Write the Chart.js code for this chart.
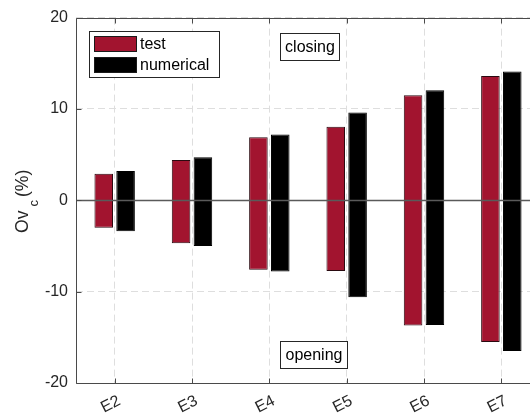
<!DOCTYPE html>
<html>
<head>
<meta charset="utf-8">
<script src="https://cdn.jsdelivr.net/npm/chart.js@4.4.1/dist/chart.umd.min.js"></script>
<style>
html,body{margin:0;padding:0;background:#fff;overflow:hidden;width:530px;height:413px;}
#wrap{position:absolute;left:0;top:0;width:545px;height:413px;}
</style>
</head>
<body>
<div id="wrap"><canvas id="c" width="545" height="413"></canvas></div>
<script>
const categories = ['E2','E3','E4','E5','E6','E7'];
const testHigh = [2.9, 4.4, 6.9, 8.05, 11.5, 13.6];
const testLow  = [-3.0, -4.7, -7.6, -7.75, -13.7, -15.5];
const numHigh  = [3.2, 4.7, 7.2, 9.6, 12.05, 14.1];
const numLow   = [-3.4, -5.0, -7.8, -10.6, -13.65, -16.5];
const yTicks = [-20, -10, 0, 10, 20];
const seriesNames = ['test', 'numerical'];
const seriesColors = ['#A2142F', '#000000'];

const FONT = '"Liberation Sans", Arial, Helvetica, sans-serif';
const AX = '#262626';

const overlay = {
  id: 'overlay',
  afterDatasetsDraw(chart) {
    const ctx = chart.ctx, a = chart.chartArea;
    const xs = chart.scales.x, ys = chart.scales.y;
    ctx.save();
    // zero line
    const y0 = Math.round(ys.getPixelForValue(0)) + 0.5;
    ctx.strokeStyle = '#5a5a5a'; ctx.lineWidth = 1.4;
    ctx.beginPath(); ctx.moveTo(a.left, y0); ctx.lineTo(a.right, y0); ctx.stroke();
    // box
    ctx.strokeStyle = '#4a4a4a'; ctx.lineWidth = 1;
    const L = Math.round(a.left) + 0.5, T = Math.round(a.top) + 0.5, B = Math.round(a.bottom) + 0.5, R = Math.round(a.right) + 0.5;
    ctx.beginPath();
    ctx.moveTo(L, B); ctx.lineTo(L, T); ctx.lineTo(R, T); ctx.lineTo(R, B); ctx.lineTo(L, B);
    ctx.stroke();
    // inside ticks
    ctx.beginPath();
    categories.forEach((c, i) => {
      const x = Math.round(xs.getPixelForValue(i)) + 0.5;
      ctx.moveTo(x, T); ctx.lineTo(x, T + 5);
      ctx.moveTo(x, B); ctx.lineTo(x, B - 5);
    });
    yTicks.forEach(v => {
      const y = Math.round(ys.getPixelForValue(v)) + 0.5;
      ctx.moveTo(L, y); ctx.lineTo(L + 5, y);
      ctx.moveTo(R, y); ctx.lineTo(R - 5, y);
    });
    ctx.stroke();
    // x tick labels (rotated)
    ctx.fillStyle = AX;
    ctx.font = '16px ' + FONT;
    ctx.textAlign = 'center'; ctx.textBaseline = 'middle';
    categories.forEach((c, i) => {
      const x = xs.getPixelForValue(i);
      ctx.save();
      ctx.translate(x - 4, a.bottom + 21.5);
      ctx.rotate(-27 * Math.PI / 180);
      ctx.fillText(c, 0, 0);
      ctx.restore();
    });
    // y title with subscript
    ctx.save();
    ctx.translate(28, 233);
    ctx.rotate(-Math.PI / 2);
    ctx.textAlign = 'left'; ctx.textBaseline = 'alphabetic';
    ctx.font = '17.6px ' + FONT;
    ctx.fillText('Ov', 0, 0);
    let w = ctx.measureText('Ov').width + 4;
    ctx.font = '13px ' + FONT;
    ctx.fillText('c', w, 10);
    w += ctx.measureText('c').width + 3;
    ctx.font = '17.6px ' + FONT;
    ctx.fillText('(%)', w, 0);
    ctx.restore();
    // legend
    ctx.fillStyle = '#fff';
    ctx.fillRect(89, 31, 130, 46);
    ctx.strokeStyle = '#262626'; ctx.lineWidth = 1;
    ctx.strokeRect(89.5, 31.5, 130, 46);
    ctx.font = '16px ' + FONT;
    ctx.textAlign = 'left'; ctx.textBaseline = 'middle';
    seriesNames.forEach((n, i) => {
      const yy = 36 + i * 21;
      ctx.fillStyle = seriesColors[i];
      ctx.fillRect(94, yy, 43, 16);
      ctx.strokeStyle = '#1a1a1a';
      ctx.strokeRect(94.5, yy + 0.5, 42, 15);
      ctx.fillStyle = '#000';
      ctx.fillText(n, 140, yy + 8.5);
    });
    // annotations
    const boxes = [['closing', 280, 33, 59, 27], ['opening', 280, 341, 67, 27]];
    boxes.forEach(([t, x, y, bw, bh]) => {
      ctx.fillStyle = '#fff';
      ctx.fillRect(x, y, bw, bh);
      ctx.strokeStyle = '#262626';
      ctx.strokeRect(x + 0.5, y + 0.5, bw, bh);
      ctx.fillStyle = '#000';
      ctx.textAlign = 'center';
      ctx.fillText(t, x + bw / 2 + 0.5, y + bh / 2 + 1);
    });
    ctx.restore();
  }
};

new Chart(document.getElementById('c'), {
  type: 'bar',
  data: {
    labels: categories,
    datasets: [
      {
        label: seriesNames[0],
        data: testLow.map((v, i) => [v, testHigh[i]]),
        backgroundColor: seriesColors[0],
        borderColor: '#2a0a10',
        borderWidth: 1,
        borderSkipped: false,
        categoryPercentage: 0.565,
        barPercentage: 0.85
      },
      {
        label: seriesNames[1],
        data: numLow.map((v, i) => [v, numHigh[i]]),
        backgroundColor: seriesColors[1],
        borderColor: '#000',
        borderWidth: 1,
        borderSkipped: false,
        categoryPercentage: 0.565,
        barPercentage: 0.85
      }
    ]
  },
  options: {
    responsive: false,
    animation: false,
    devicePixelRatio: 1,
    layout: { padding: { top: 17, right: 5, left: 0, bottom: 0 } },
    plugins: { legend: { display: false }, tooltip: { enabled: false }, title: { display: false } },
    scales: {
      x: {
        type: 'category',
        offset: true,
        ticks: { display: false },
        grid: { display: true, offset: false, color: '#dedede', lineWidth: 1, drawTicks: false },
        border: { display: false, dash: [7, 4] },
        afterFit(s) { s.height = 30; }
      },
      y: {
        min: -20, max: 20,
        afterBuildTicks(s) { s.ticks = yTicks.map(v => ({ value: v })); },
        ticks: { color: AX, font: { family: FONT, size: 16 }, padding: 8, callback: v => String(v) },
        grid: { display: true, color: '#dedede', lineWidth: 1, drawTicks: false },
        border: { display: false, dash: [7, 4] },
        afterFit(s) { s.width = 76; }
      }
    }
  },
  plugins: [overlay]
});
</script>
</body>
</html>
